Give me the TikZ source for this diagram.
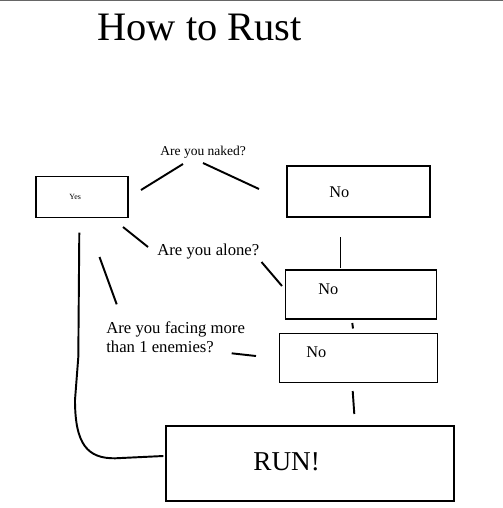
\documentclass[tikz,border=0pt]{standalone}
\usepackage{fontspec}
\setmainfont{Liberation Serif}
\usepackage{tikz}
\usetikzlibrary{positioning}

\begin{document}
\begin{tikzpicture}[x=0.02cm, y=-0.02cm,
    box/.style={rectangle, draw=black, line width=1.1pt, inner sep=0pt},
    ask/.style={anchor=base west, inner sep=0pt, font=\fontsize{9.5}{10.8}\selectfont},
    ans/.style={anchor=base west, inner sep=0pt, font=\fontsize{9.3}{11}\selectfont},
    wire/.style={line width=1.1pt},
]

% === Frame ===
\useasboundingbox (0,0) rectangle (503,508);
\draw[black!60, line width=0.7pt] (0,0.6) -- (503,0.6);

% === Title ===
\node[anchor=base west, inner sep=0pt, font=\fontsize{23}{27}\selectfont] (title) at (97,40) {How to Rust};

% === Questions ===
\node[ask, font=\fontsize{7.7}{9}\selectfont] (naked) at (160,155) {Are you naked?};
\node[ask] (alone) at (157,255) {Are you alone?};
\node[ask, align=left] (facing) at (106,352.5) {Are you facing more\\than 1 enemies?};

% === Boxes ===
\node[box, minimum width=1.84cm, minimum height=0.82cm] (yes) at (82,197) {};
\node[box, minimum width=2.86cm, minimum height=1.02cm] (no1) at (358.3,191.7) {};
\node[box, minimum width=3.02cm, minimum height=0.98cm] (no2) at (361,294.5) {};
\node[box, minimum width=3.16cm, minimum height=0.98cm] (no3) at (358.5,358) {};
\node[box, minimum width=5.76cm, minimum height=1.49cm] (run) at (310,463.3) {};

% === Box texts ===
\node[anchor=base west, inner sep=0pt, font=\fontsize{4.5}{5}\selectfont] (yest) at (69,199) {Yes};
\node[ans] (no1t) at (329,197) {No};
\node[ans] (no2t) at (318,294) {No};
\node[ans] (no3t) at (306,357) {No};
\node[anchor=base west, inner sep=0pt, font=\fontsize{15.5}{18}\selectfont] (runt) at (253,470) {RUN!};

% === Line ends ===
\coordinate (a1) at (141,190);   \coordinate (a2) at (183,164);
\coordinate (b1) at (203,163);   \coordinate (b2) at (259,189);
\coordinate (c1) at (340.5,237); \coordinate (c2) at (340.5,267.5);
\coordinate (d1) at (123,227);   \coordinate (d2) at (148,247);
\coordinate (e1) at (261.5,262); \coordinate (e2) at (282,286);
\coordinate (f1) at (352.3,323); \coordinate (f2) at (353,328.5);
\coordinate (g1) at (352.7,391); \coordinate (g2) at (354.3,414);
\coordinate (h1) at (99.5,257);  \coordinate (h2) at (116.7,304.3);
\coordinate (i1) at (231.7,353.3); \coordinate (i2) at (256,356);
\coordinate (k1) at (79.3,232.7);  \coordinate (k2) at (163.3,456);

% === Connectors ===
\draw[wire] (a1) -- (a2);
\draw[wire] (b1) -- (b2);
\draw[wire] (c1) -- (c2);
\draw[wire] (d1) -- (d2);
\draw[wire] (e1) -- (e2);
\draw[wire] (f1) -- (f2);
\draw[wire] (g1) -- (g2);
\draw[wire] (h1) -- (h2);
\draw[wire] (i1) -- (i2);
\draw[wire] (k1) -- (78.3,357) -- (75,400) .. controls (75,445) and (88,458.5) .. (115,458.3) -- (k2);

\end{tikzpicture}
\end{document}
